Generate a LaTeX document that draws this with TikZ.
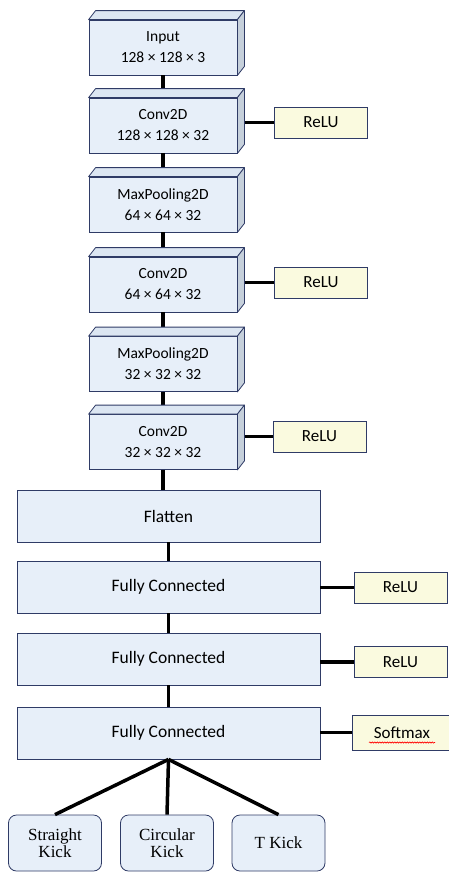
\documentclass[tikz,border=0pt]{standalone}
\usepackage{fontspec}
\setmainfont{Carlito}
\newfontfamily\kickfont{Liberation Serif}
\usetikzlibrary{calc,decorations.pathmorphing}
\definecolor{layerfill}{HTML}{E7EFF9}
\definecolor{layertop}{HTML}{DCE6F2}
\definecolor{layerside}{HTML}{C6D0DB}
\definecolor{layerline}{HTML}{2F3B66}
\definecolor{actfill}{HTML}{FAFADF}

\begin{document}
\begin{tikzpicture}[x=1pt,y=-1pt,
			layer/.style={
				rectangle,
				draw=layerline,
				fill=layerfill,
				line width=0.8pt,
				minimum width=148pt,
				minimum height=55pt,
				inner sep=0pt,
				align=center,
				font=\fontsize{15.5}{21}\selectfont,
			},
			dense/.style={
				rectangle,
				draw=layerline,
				fill=layerfill,
				line width=0.8pt,
				minimum width=303pt,
				minimum height=52pt,
				font=\fontsize{17.5}{20}\selectfont,
			},
			act/.style={
				rectangle,
				draw=layerline,
				fill=actfill,
				line width=0.8pt,
				minimum width=93pt,
				minimum height=31pt,
				font=\fontsize{17}{20}\selectfont,
			},
			kick/.style={
				rectangle,
				rounded corners=8pt,
				draw=layerline,
				fill=layerfill,
				line width=0.8pt,
				minimum width=93pt,
				minimum height=56pt,
				inner sep=0pt,
				align=center,
				font=\kickfont\fontsize{17}{17.5}\selectfont,
			},
			face/.style={
				draw=layerline,
				line width=0.8pt,
				line join=round,
			},
			every edge/.style={
				draw,
				line width=3.5pt,
			}]
		\clip (0,0) rectangle (449,873);
		\node[layer](in)    at (163,47.5)  {Input\\128 × 128 × 3};
		\node[layer](conv1) at (163,125.5) {Conv2D\\128 × 128 × 32};
		\node[layer](pool1) at (163,204.5) {MaxPooling2D\\64 × 64 × 32};
		\node[layer](conv2) at (163,284.5) {Conv2D\\64 × 64 × 32};
		\node[layer](pool2) at (163,364)   {MaxPooling2D\\32 × 32 × 32};
		\node[layer](conv3) at (163,442)   {Conv2D\\32 × 32 × 32};
		\node[dense](flat)  at (168.5,516) {Flatten};
		\node[dense](fc1)   at (168.5,587) {Fully Connected};
		\node[dense](fc2)   at (168.5,659) {Fully Connected};
		\node[dense](fc3)   at (168.5,733) {Fully Connected};
		\node[act](relu1)   at (321,122.5) {ReLU};
		\node[act](relu2)   at (321,282.5) {ReLU};
		\node[act](relu3)   at (319.5,436.5) {ReLU};
		\node[act](relu4)   at (400.5,587.5) {ReLU};
		\node[act](relu5)   at (400.5,662) {ReLU};
		\node[act,minimum width=100pt,minimum height=35pt](soft) at (402,732.5) {Softmax};
		\node[kick](straight) at (55,843)  {Straight\\Kick};
		\node[kick](circular) at (167,843) {Circular\\Kick};
		\node[kick](tkick)    at (278.5,843) {T Kick};
		\path (in) edge (conv1) (conv1) edge (pool1) (pool1) edge (conv2)
			(conv2) edge (pool2) (pool2) edge (conv3);
		\path (conv3.south) edge (conv3.south |- flat.north);
		\path (flat) edge (fc1) (fc1) edge (fc2) (fc2) edge (fc3);
		\path (relu1.west -| conv1.east) edge (relu1.west)
			(relu2.west -| conv2.east) edge (relu2.west)
			(relu3.west -| conv3.east) edge (relu3.west);
		\path (relu4.west -| fc1.east) edge (relu4.west)
			(relu5.west -| fc2.east) edge (relu5.west)
			(soft.west -| fc3.east) edge (soft.west);
		\path (fc3.south) edge (straight.north) (fc3.south) edge (circular.north)
			(fc3.south) edge (tkick.north);
		\foreach \n in {in,conv1,pool1,conv2,pool2,conv3} {
			\filldraw[face,fill=layertop] (\n.north west) -- ++(7,-9)
				-- ($(\n.north east)+(7,-9)$) -- (\n.north east) -- cycle;
			\filldraw[face,fill=layerside] (\n.north east) -- ++(7,-9)
				-- ($(\n.south east)+(7,-9)$) -- (\n.south east) -- cycle;
		}
		\draw[red,line width=0.6pt,decorate,decoration={snake,amplitude=0.6pt,segment length=2.5pt}]
			($(soft.center)+(-33,10)$) -- ($(soft.center)+(33,10)$);
	\end{tikzpicture}
\end{document}
